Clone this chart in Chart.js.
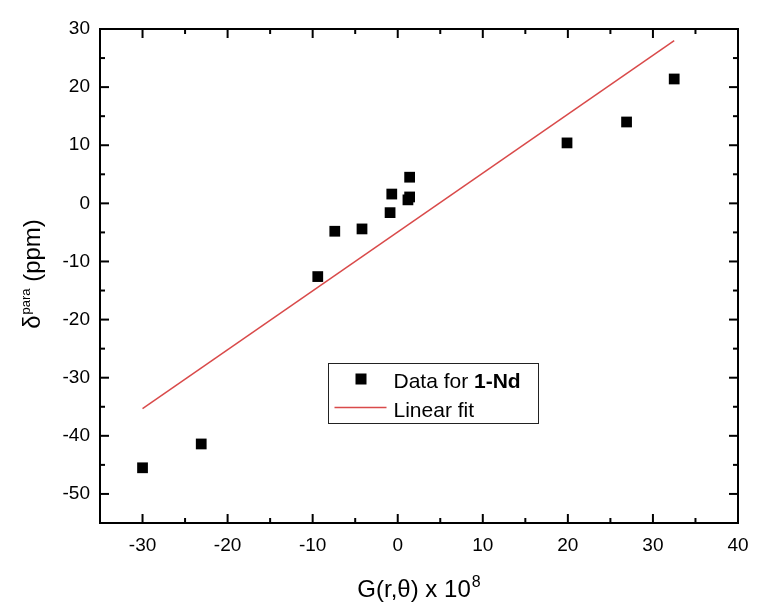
<!DOCTYPE html>
<html>
<head>
<meta charset="utf-8">
<script src="https://cdn.jsdelivr.net/npm/chart.js@4"></script>
<style>
  html, body { margin: 0; padding: 0; background: #ffffff; }
  #wrap { position: relative; width: 760px; height: 605px; }
</style>
</head>
<body>
<div id="wrap"><canvas id="c"></canvas></div>
<script>
// ---- data ----
const dataX = [-30, -23.1, -9.4, -7.4, -4.2, -0.9, -0.7, 1.2, 1.4, 1.4, 19.9, 26.9, 32.5];
const dataY = [-45.5, -41.4, -12.6, -4.8, -4.4, -1.6, 1.6, 0.6, 1.1, 4.5, 10.4, 14.0, 21.4];
const fitX = [-30, 32.5];
const fitY = [-35.3, 28.0];
const xTicks = [-30, -20, -10, 0, 10, 20, 30, 40];
const yTicks = [-50, -40, -30, -20, -10, 0, 10, 20, 30];
const xMinor = [-35, -25, -15, -5, 5, 15, 25, 35];
const yMinor = [-55, -45, -35, -25, -15, -5, 5, 15, 25];
const seriesLabels = ['Data for ', '1-Nd', 'Linear fit'];
const xTitle = ['G(r,θ) x 10', '8'];
const yTitle = ['δ', 'para', ' (ppm)'];

const FONT = '"Liberation Sans", Arial, sans-serif';

const framePlugin = {
  id: 'frame',
  afterDraw(chart) {
    const ctx = chart.ctx;
    const a = chart.chartArea;
    const xs = chart.scales.x, ys = chart.scales.y;
    ctx.save();
    ctx.strokeStyle = '#000';
    ctx.lineWidth = 2;
    ctx.strokeRect(a.left, a.top, a.right - a.left, a.bottom - a.top);
    // inward ticks, mirrored on top/right
    const tick = (x1, y1, x2, y2) => { ctx.beginPath(); ctx.moveTo(x1, y1); ctx.lineTo(x2, y2); ctx.stroke(); };
    xTicks.forEach(v => { const p = xs.getPixelForValue(v); tick(p, a.bottom, p, a.bottom - 9); tick(p, a.top, p, a.top + 9); });
    xMinor.forEach(v => { const p = xs.getPixelForValue(v); tick(p, a.bottom, p, a.bottom - 5); tick(p, a.top, p, a.top + 5); });
    yTicks.forEach(v => { const p = ys.getPixelForValue(v); tick(a.left, p, a.left + 9, p); tick(a.right, p, a.right - 9, p); });
    yMinor.forEach(v => { const p = ys.getPixelForValue(v); tick(a.left, p, a.left + 5, p); tick(a.right, p, a.right - 5, p); });

    // x title
    ctx.fillStyle = '#000';
    ctx.textBaseline = 'alphabetic';
    ctx.textAlign = 'left';
    const fMain = '24px ' + FONT, fSupX = '16px ' + FONT, fSupY = '13px ' + FONT;
    ctx.font = fMain; const w1 = ctx.measureText(xTitle[0]).width;
    ctx.font = fSupX; const w2 = ctx.measureText(xTitle[1]).width;
    const cx = (a.left + a.right) / 2;
    const sx = cx - (w1 + w2 + 1) / 2;
    const by = 597;
    ctx.font = fMain; ctx.fillText(xTitle[0], sx, by);
    ctx.font = fSupX; ctx.fillText(xTitle[1], sx + w1 + 1, by - 10);

    // y title (rotated)
    ctx.save();
    ctx.translate(40, 274);
    ctx.rotate(-Math.PI / 2);
    ctx.font = fMain; const t1 = ctx.measureText(yTitle[0]).width;
    ctx.font = fSupY; const t2 = ctx.measureText(yTitle[1]).width;
    ctx.font = fMain; const t3 = ctx.measureText(yTitle[2]).width;
    const yx = -(t1 + t2 + t3 + 1) / 2;
    ctx.font = fMain; ctx.fillText(yTitle[0], yx, 0);
    ctx.font = fSupY; ctx.fillText(yTitle[1], yx + t1 + 1, -10);
    ctx.font = fMain; ctx.fillText(yTitle[2], yx + t1 + t2 + 1, 0);
    ctx.restore();

    // legend
    const lx = a.left + 228.5, ly = a.top + 334.5;
    ctx.lineWidth = 1;
    ctx.strokeStyle = '#222';
    ctx.strokeRect(lx, ly, 210, 60);
    ctx.fillStyle = '#000';
    ctx.fillRect(lx + 27, ly + 10, 11, 11);
    ctx.strokeStyle = '#d94a4a';
    ctx.lineWidth = 1.5;
    tick(lx + 6, ly + 44, lx + 58, ly + 44);
    ctx.fillStyle = '#000';
    ctx.font = '21px ' + FONT;
    ctx.fillText(seriesLabels[0], lx + 65, ly + 24);
    const dw = ctx.measureText(seriesLabels[0]).width;
    ctx.font = 'bold 21px ' + FONT;
    ctx.fillText(seriesLabels[1], lx + 65 + dw, ly + 24);
    ctx.font = '21px ' + FONT;
    ctx.fillText(seriesLabels[2], lx + 65, ly + 53);
    ctx.restore();
  }
};

new Chart(document.getElementById('c'), {
  type: 'scatter',
  data: {
    datasets: [
      {
        label: 'Linear fit',
        type: 'line',
        data: fitX.map((x, i) => ({ x, y: fitY[i] })),
        borderColor: '#d94a4a',
        borderWidth: 1.5,
        pointRadius: 0,
        fill: false,
        order: 2
      },
      {
        label: 'Data for 1-Nd',
        data: dataX.map((x, i) => ({ x, y: dataY[i] })),
        pointStyle: 'rect',
        pointRadius: 7.6,
        pointHoverRadius: 7.6,
        backgroundColor: '#000',
        borderColor: '#000',
        borderWidth: 0,
        order: 1
      }
    ]
  },
  options: {
    responsive: true,
    maintainAspectRatio: false,
    animation: false,
    events: [],
    layout: { padding: { top: 29, right: 22, left: 0, bottom: 0 } },
    plugins: { legend: { display: false }, tooltip: { enabled: false } },
    scales: {
      x: {
        type: 'linear', min: -35, max: 40,
        afterFit(s) { s.height = 82; },
        afterBuildTicks(s) { s.ticks = xTicks.map(v => ({ value: v })); },
        grid: { display: false, drawTicks: false },
        border: { display: false },
        ticks: { color: '#000', font: { family: FONT, size: 19 }, padding: 11, maxRotation: 0 }
      },
      y: {
        type: 'linear', min: -55, max: 30,
        afterFit(s) { s.width = 100; },
        afterBuildTicks(s) { s.ticks = yTicks.map(v => ({ value: v })); },
        grid: { display: false, drawTicks: false },
        border: { display: false },
        ticks: { color: '#000', font: { family: FONT, size: 19 }, padding: 10 }
      }
    }
  },
  plugins: [framePlugin]
});
</script>
</body>
</html>
